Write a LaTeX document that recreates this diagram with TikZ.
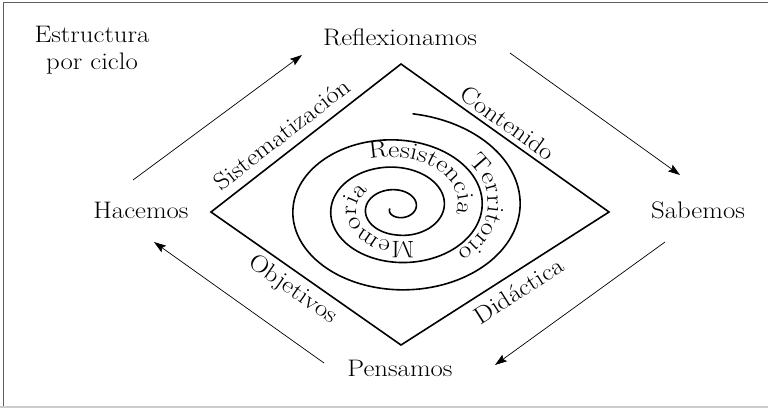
\documentclass[tikz,border=0pt]{standalone}
\usepackage{fontspec}
\setmainfont{Latin Modern Roman}[FakeStretch=1.12]
\newfontfamily\spirfam{Latin Modern Roman}[FakeStretch=1.15]
\usetikzlibrary{arrows.meta,decorations.text}
\newcommand{\lblfont}{\fontsize{24}{27}\selectfont}
\newcommand{\spirfont}{\spirfam\fontsize{24}{26}\selectfont}

\begin{document}
\begin{tikzpicture}[x=1bp,y=-1bp,
    >={Stealth[length=12bp,width=8bp,inset=2bp]},
    lbl/.style={font=\lblfont, inner sep=2bp},
    cyc/.style={line width=0.7bp, ->}]
    \useasboundingbox (0,0) rectangle (768,408);
    \draw[line width=1.3bp, gray!75!black] (3.5,408) -- (3.5,2.5) -- (768,2.5); % frame
    \draw[line width=1.3bp, gray!40] (0,407) -- (768,407); % bottom edge

    \node[lbl, align=center] (titulo) at (92,50) {Estructura\\por ciclo};
    \node[lbl] (refl) at (400,37) {Reflexionamos};
    \node[lbl] (hac) at (141,210) {Hacemos};
    \node[lbl] (sab) at (698,210) {Sabemos};
    \node[lbl] (pen) at (400,368) {Pensamos};

    \coordinate (dT) at (401,64);
    \coordinate (dR) at (609,212);
    \coordinate (dB) at (401,345);
    \coordinate (dL) at (211,212);
    \draw[line width=1.6bp] (dL) -- (dT) -- (dR) -- (dB) -- cycle; % diamond
    \path (dL) -- node[lbl, sloped, above=7bp, pos=0.43] (sis) {Sistematización} (dT);
    \path (dT) -- node[lbl, sloped, above=3bp, pos=0.475] (cont) {Contenido} (dR);
    \path (dL) -- node[lbl, sloped, below=4bp, pos=0.48] (obj) {Objetivos} (dB);
    \path (dB) -- node[lbl, sloped, below=7bp, pos=0.52] (did) {Didáctica} (dR);

    % cycle arrows
    \draw[cyc] ([shift={(-8,-30)}]hac.center) -- ([shift={(-98,18)}]refl.center);
    \draw[cyc] ([shift={(110,16)}]refl.center) -- ([shift={(-18,-35)}]sab.center);
    \draw[cyc] ([shift={(-33,32)}]sab.center) -- ([shift={(95,-3)}]pen.center);
    \draw[cyc] ([shift={(-76,-5)}]pen.center) -- ([shift={(13,32)}]hac.center);

    % spiral
    \draw[line width=1.6bp, line cap=round] plot[domain=-170:1163, samples=500, smooth, variable=\t]
        ({397+(9+0.10556*\t+10*max(0,1-\t/270))*cos(\t)}, {208-0.72*(9+0.10556*\t+10*max(0,1-\t/270))*sin(\t)});

    % words along the spiral
    \path[decorate, decoration={text along path, text align=center, text={|\spirfont|Resistencia}}]
        plot[domain=0:1, samples=80, variable=\t]
        ({397+(23+0.10556*(490-165*\t))*cos(490-165*\t)}, {208-0.72*(23+0.10556*(490-165*\t))*sin(490-165*\t)});
    \path[decorate, decoration={text along path, text align=center, text={|\spirfont|Memoria}}]
        plot[domain=0:1, samples=80, variable=\t]
        ({397+(18+0.10556*(320-220*\t)+10*max(0,1-(320-220*\t)/270))*cos(320-220*\t)}, {208-0.72*(18+0.10556*(320-220*\t)+10*max(0,1-(320-220*\t)/270))*sin(320-220*\t)});
    \path[decorate, decoration={text along path, text align=center, text={|\spirfont|Territorio}}]
        plot[domain=0:1, samples=80, variable=\t]
        ({397+(15+0.10556*(790-146*\t))*cos(790-146*\t)}, {208-0.72*(15+0.10556*(790-146*\t))*sin(790-146*\t)});
\end{tikzpicture}
\end{document}
